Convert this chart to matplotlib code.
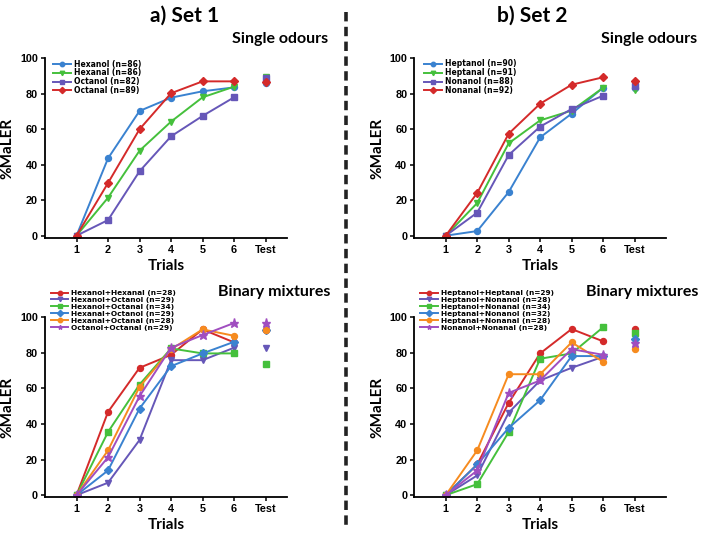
import matplotlib
matplotlib.use("Agg")
import matplotlib.pyplot as plt
from matplotlib.lines import Line2D

# x positions: trials 1-6 then the test
x_labels = ["1", "2", "3", "4", "5", "6", "Test"]
trials = [1, 2, 3, 4, 5, 6]
test_x = 7

# ---- Set 1, single odours
set1_single_names = ["Hexanol (n=86)", "Hexanal (n=86)", "Octanol (n=82)", "Octanal (n=89)"]
set1_single_vals = [
    [0, 43.6, 70.3, 77.8, 81.4, 83.6],
    [0, 21.4, 47.9, 64.3, 78.0, 84.0],
    [0, 8.8, 36.3, 56.0, 67.5, 78.0],
    [0, 29.7, 60.0, 80.3, 87.0, 87.0],
]
set1_single_test = [86.2, 89.4, 88.7, 86.8]

# ---- Set 2, single odours
set2_single_names = ["Heptanol (n=90)", "Heptanal (n=91)", "Nonanol (n=88)", "Nonanal (n=92)"]
set2_single_vals = [
    [0, 2.6, 24.6, 55.4, 68.8, 83.4],
    [0, 18.4, 52.1, 65.0, 70.5, 83.4],
    [0, 13.0, 45.5, 61.5, 71.4, 78.9],
    [0, 24.1, 57.5, 74.4, 85.1, 89.3],
]
set2_single_test = [83.3, 82.1, 84.4, 87.2]

# ---- Set 1, binary mixtures
set1_mix_names = ["Hexanol+Hexanal (n=28)", "Hexanol+Octanol (n=29)", "Hexanol+Octanal (n=34)",
                  "Hexanal+Octanol (n=29)", "Hexanal+Octanal (n=28)", "Octanol+Octanal (n=29)"]
set1_mix_vals = [
    [0, 46.8, 71.6, 78.9, 93.2, 85.9],
    [0, 7.0, 31.0, 75.9, 75.9, 82.9],
    [0, 35.5, 62.2, 82.5, 79.7, 79.7],
    [0, 13.9, 48.7, 72.5, 79.7, 86.2],
    [0, 25.2, 60.9, 82.0, 93.2, 89.6],
    [0, 21.3, 55.6, 82.9, 90.0, 96.8],
]
set1_mix_test = [93.0, 82.9, 73.7, 93.0, 93.0, 96.6]

# ---- Set 2, binary mixtures
set2_mix_names = ["Heptanol+Heptanal (n=29)", "Heptanol+Nonanol (n=28)", "Heptanol+Nonanal (n=34)",
                  "Heptanal+Nonanol (n=32)", "Heptanal+Nonanal (n=28)", "Nonanol+Nonanal (n=28)"]
set2_mix_vals = [
    [0, 17.3, 51.9, 79.7, 93.4, 86.5],
    [0, 11.1, 46.4, 64.5, 71.6, 77.8],
    [0, 6.2, 35.5, 76.7, 79.7, 94.4],
    [0, 17.3, 37.8, 53.4, 78.2, 78.2],
    [0, 25.2, 68.0, 68.0, 85.9, 75.0],
    [0, 13.9, 57.5, 64.5, 82.1, 78.9],
]
set2_mix_test = [93.4, 86.0, 91.3, 87.6, 82.1, 85.7]

# styles
blue, green, purple, red = "#3a82d0", "#45c03c", "#6657b8", "#d42a2a"
orange, violet = "#f68b1f", "#a04ec0"
single_styles = [(blue, "o"), (green, "v"), (purple, "s"), (red, "D")]
mix_styles = [(red, "o"), (purple, "v"), (green, "s"), (blue, "D"), (orange, "o"), (violet, "*")]

tick_font = "Liberation Sans"
legend_font = "DejaVu Sans"
head_font = "Lato"

W, H = 702, 536
fig = plt.figure(figsize=(W / 100, H / 100), dpi=100)


def px_axes(left, top, right, bottom):
    return fig.add_axes([left / W, 1 - bottom / H, (right - left) / W, (bottom - top) / H])


def draw(ax, names, vals, test, styles, xmax, leg_xy, mix):
    for name, v, t, (c, m) in zip(names, vals, test, styles):
        ms = 6.5 if m == "*" else (3.6 if m == "D" else 4.3)
        ax.plot(trials, v, color=c, marker=m, ms=ms, lw=1.4, label=name)
        ax.plot([test_x], [t], color=c, marker=m, ms=ms, ls="none")
    ax.set_xlim(0, xmax)
    ax.set_ylim(-1.2, 100)
    ax.set_xticks(range(1, 8))
    ax.set_xticklabels(x_labels)
    ax.set_yticks([0, 20, 40, 60, 80, 100])
    for s in ["top", "right"]:
        ax.spines[s].set_visible(False)
    for s in ["left", "bottom"]:
        ax.spines[s].set_linewidth(1.3)
    ax.tick_params(direction="out", length=3, width=1.1, pad=2, labelsize=7.8)
    for lab in ax.get_xticklabels() + ax.get_yticklabels():
        lab.set_fontfamily(tick_font)
        lab.set_fontweight("bold")
    ax.set_ylabel("%MaLER", fontfamily=head_font, fontweight="bold", fontsize=11, labelpad=4)
    ax.set_xlabel("Trials", fontfamily=head_font, fontweight="bold", fontsize=11, labelpad=3)
    if mix:
        size, spacing = 5.3, 0.1
    else:
        size, spacing = 5.5, -0.02
    leg = ax.legend(loc="upper left", bbox_to_anchor=(leg_xy[0] / W, 1 - leg_xy[1] / H),
                    bbox_transform=fig.transFigure, frameon=False,
                    prop={"family": legend_font, "weight": "bold", "size": size},
                    handlelength=2.4, handletextpad=0.4, labelspacing=spacing,
                    borderpad=0, borderaxespad=0)
    for h in leg.legend_handles:
        h.set_markersize(3.2)


ax1 = px_axes(45, 58.3, 287, 237.8)
draw(ax1, set1_single_names, set1_single_vals, set1_single_test, single_styles, 7.68,
     (53, 59.5), False)
ax2 = px_axes(414.3, 58.3, 666, 237.8)
draw(ax2, set2_single_names, set2_single_vals, set2_single_test, single_styles, 8.0,
     (424, 59.5), False)
ax3 = px_axes(45, 317.3, 287, 497.3)
draw(ax3, set1_mix_names, set1_mix_vals, set1_mix_test, mix_styles, 7.68,
     (50.7, 290), True)
ax4 = px_axes(414.3, 317.3, 666, 497.3)
draw(ax4, set2_mix_names, set2_mix_vals, set2_mix_test, mix_styles, 8.0,
     (420, 290), True)

# headings
fig.text(185 / W, 1 - 16 / H, "a) Set 1", ha="center", va="center",
         fontfamily=head_font, fontweight="bold", fontsize=15)
fig.text(532 / W, 1 - 16 / H, "b) Set 2", ha="center", va="center",
         fontfamily=head_font, fontweight="bold", fontsize=15)
fig.text(328 / W, 1 - 39 / H, "Single odours", ha="right", va="center",
         fontfamily=head_font, fontweight="bold", fontsize=11.5)
fig.text(697 / W, 1 - 39 / H, "Single odours", ha="right", va="center",
         fontfamily=head_font, fontweight="bold", fontsize=11.5)
fig.text(330 / W, 1 - 292 / H, "Binary mixtures", ha="right", va="center",
         fontfamily=head_font, fontweight="bold", fontsize=11.5)
fig.text(698 / W, 1 - 292 / H, "Binary mixtures", ha="right", va="center",
         fontfamily=head_font, fontweight="bold", fontsize=11.5)

# dashed divider
fig.add_artist(Line2D([345.7 / W, 345.7 / W], [1 - 12 / H, 1 - 530 / H], color="#222222",
                      lw=2.6, ls=(0, (2.6, 1.5)), transform=fig.transFigure))

fig.savefig("out.png", dpi=100)
